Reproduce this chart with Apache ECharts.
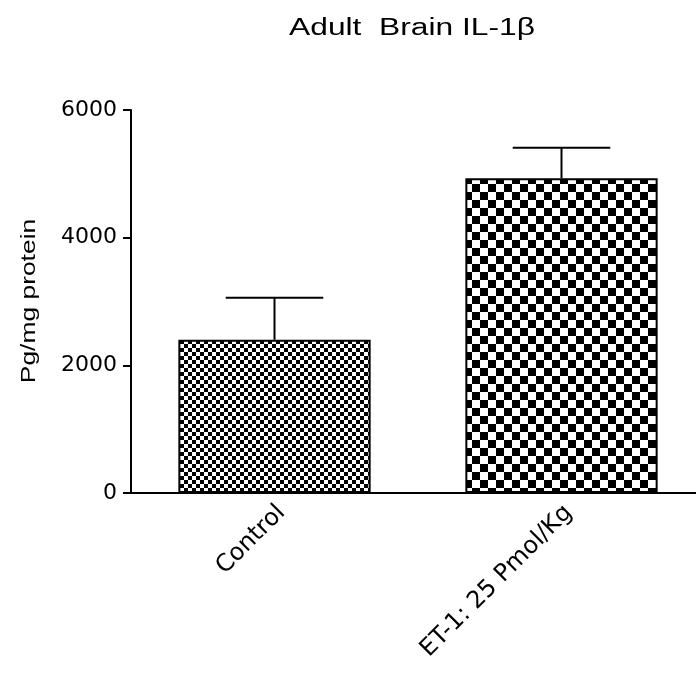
<!DOCTYPE html>
<html>
<head>
<meta charset="utf-8">
<script src="https://cdn.jsdelivr.net/npm/echarts@6/dist/echarts.min.js"></script>
<style>
html,body{margin:0;padding:0;background:#fff;}
#chart{width:696px;height:679px;}
</style>
</head>
<body>
<div id="chart"></div>
<script>
const categories = ['Control', 'ET-1: 25 Pmol/Kg'];
const means = [2400, 4930];
const errors = [660, 480];
const yTicks = [0, 2000, 4000, 6000];
const checkerSizes = [4, 8];
const titleText = 'Adult  Brain IL-1β';
const yAxisTitle = 'Pg/mg protein';

function checker(size) {
  const c = document.createElement('canvas');
  c.width = size * 2; c.height = size * 2;
  const g = c.getContext('2d');
  g.fillStyle = '#fff'; g.fillRect(0, 0, size * 2, size * 2);
  g.fillStyle = '#000';
  g.fillRect(0, 0, size, size);
  g.fillRect(size, size, size, size);
  return c;
}

const chart = echarts.init(document.getElementById('chart'), null, {renderer: 'canvas'});
const font = '"Liberation Sans", Arial, sans-serif';
const wideFont = '"DejaVu Sans", "Liberation Sans", sans-serif';

chart.setOption({
  animation: false,
  backgroundColor: '#fff',
  graphic: [
    {
      type: 'text', x: 412, y: 29, scaleX: 1.38,
      style: {text: titleText, font: '23px ' + font, fill: '#000', textAlign: 'center', textVerticalAlign: 'middle'}
    },
    {
      type: 'text', x: 29, y: 301, rotation: Math.PI / 2, scaleX: 1.32,
      style: {text: yAxisTitle, font: '20px ' + font, fill: '#000', textAlign: 'center', textVerticalAlign: 'middle'}
    }
  ],
  grid: {left: 131, width: 574, top: 110, bottom: 186, containLabel: false, outerBoundsMode: 'none'},
  xAxis: {
    type: 'category',
    data: categories,
    axisLine: {lineStyle: {color: '#000', width: 2}},
    axisTick: {alignWithLabel: true, length: 7, lineStyle: {color: '#000', width: 2}},
    axisLabel: {rotate: 45, fontFamily: wideFont, fontSize: 24, lineHeight: 20, verticalAlign: 'top', color: '#000', margin: 9}
  },
  yAxis: {
    type: 'value',
    min: yTicks[0], max: yTicks[yTicks.length - 1], interval: 2000,
    axisLine: {show: true, lineStyle: {color: '#000', width: 2}},
    axisTick: {show: true, length: 8, lineStyle: {color: '#000', width: 2}},
    axisLabel: {fontFamily: wideFont, fontSize: 22, color: '#000', margin: 14, formatter: v => String(v)},
    splitLine: {show: false}
  },
  series: [
    {
      type: 'bar',
      barWidth: '67%',
      data: means.map((v, i) => ({
        value: v,
        itemStyle: {
          color: {image: checker(checkerSizes[i]), repeat: 'repeat'},
          borderColor: '#000', borderWidth: 2
        }
      })),
      z: 2
    },
    {
      type: 'custom',
      z: 1,
      data: means.map((v, i) => [i, v, v + errors[i]]),
      renderItem: function (params, api) {
        const x = api.value(0);
        const top = api.coord([x, api.value(2)]);
        const base = api.coord([x, api.value(1)]);
        const bw = api.size([1, 0])[0] * 0.34;
        return {
          type: 'group',
          children: [
            {type: 'line', shape: {x1: top[0], y1: top[1], x2: base[0], y2: base[1]}, style: {stroke: '#000', lineWidth: 2}},
            {type: 'line', shape: {x1: top[0] - bw / 2, y1: top[1], x2: top[0] + bw / 2, y2: top[1]}, style: {stroke: '#000', lineWidth: 2}}
          ]
        };
      }
    }
  ]
});
</script>
</body>
</html>
